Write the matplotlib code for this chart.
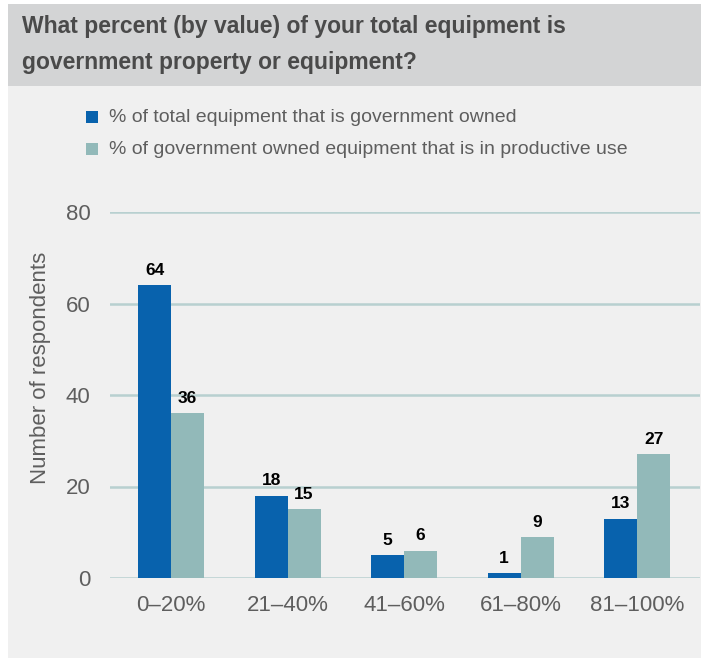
import matplotlib
matplotlib.use("Agg")
import matplotlib.pyplot as plt
import numpy as np
from matplotlib.patches import Rectangle

categories = ["0\u201320%", "21\u201340%", "41\u201360%", "61\u201380%", "81\u2013100%"]
owned = [64, 18, 5, 1, 13]
productive = [36, 15, 6, 9, 27]
series_names = ["% of total equipment that is government owned",
                "% of government owned equipment that is in productive use"]
title_lines = ["What percent (by value) of your total equipment is",
               "government property or equipment?"]
y_ticks = [0, 20, 40, 60, 80]

W, H = 701, 658
fig = plt.figure(figsize=(W / 100, H / 100), dpi=100)
fig.patch.set_facecolor("white")

# page panels
fig.patches.append(Rectangle((8 / W, 0), 1, 1 - 86 / H, transform=fig.transFigure,
                             facecolor="#f0f0f0", edgecolor="none", zorder=-2))
fig.patches.append(Rectangle((8 / W, 1 - 86 / H), 1, 82 / H, transform=fig.transFigure,
                             facecolor="#d3d4d5", edgecolor="none", zorder=-2))

title_font = ["Liberation Sans", "DejaVu Sans"]
body_font = ["Liberation Sans", "DejaVu Sans"]
fig.text(22 / W, 1 - 27 / H, title_lines[0], fontsize=16.5, fontweight="bold",
         family=title_font, color="#4a4a4a", va="center", ha="left")
fig.text(22 / W, 1 - 62 / H, title_lines[1], fontsize=16.5, fontweight="bold",
         family=title_font, color="#4a4a4a", va="center", ha="left")

blue = "#0862ad"
teal = "#92b9b9"
text_grey = "#5e5e5e"

# legend
for i, (name, col) in enumerate(zip(series_names, [blue, teal])):
    yc = 1 - (117 + 32 * i) / H
    fig.patches.append(Rectangle((86 / W, yc - 6 / H), 12 / W, 12 / H,
                                 transform=fig.transFigure, facecolor=col,
                                 edgecolor="none", zorder=2))
    fig.text(109 / W, yc, name, fontsize=14, color=text_grey,
             family=body_font, va="center", ha="left")

ax = fig.add_axes([110 / W, 1 - 578 / H, 590 / W, 366 / H])
ax.set_facecolor("none")
x = np.arange(len(categories))
bw = 0.283
b1 = ax.bar(x - bw / 2, owned, bw, color=blue, zorder=3)
b2 = ax.bar(x + bw / 2, productive, bw, color=teal, zorder=3)

for bars, vals in ((b1, owned), (b2, productive)):
    for rect, v in zip(bars, vals):
        ax.text(rect.get_x() + rect.get_width() / 2, v + 1.6, str(v),
                ha="center", va="bottom", fontsize=12.5, fontweight="bold",
                family=title_font, color="black")

ax.set_xlim(-0.524, 4.54)
ax.set_ylim(0, 80)
ax.set_yticks(y_ticks)
ax.set_xticks(x)
ax.set_xticklabels(categories)
ax.tick_params(axis="both", length=0, labelsize=16, labelcolor=text_grey)
ax.tick_params(axis="y", pad=14)
ax.tick_params(axis="x", pad=12)
for lab in ax.get_xticklabels() + ax.get_yticklabels():
    lab.set_family(body_font)
for s in ax.spines.values():
    s.set_visible(False)
ax.yaxis.grid(True, color="#b8d0d0", linewidth=1.8, zorder=0)
ax.set_axisbelow(True)
ax.set_ylabel("Number of respondents", fontsize=16, color=text_grey,
              family=body_font)
ax.yaxis.set_label_coords(-0.100, 0.574)

fig.savefig("out.png", dpi=100, facecolor=fig.get_facecolor())
